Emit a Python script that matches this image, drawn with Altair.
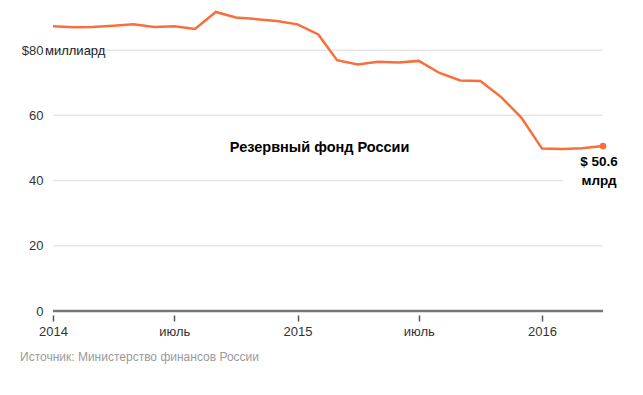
import altair as alt
import pandas as pd

dates = pd.date_range("2014-01-01", "2016-04-01", freq="MS").strftime("%Y-%m-%d").tolist()
values = [87.3, 87.0, 87.1, 87.5, 87.9, 87.1, 87.3, 86.5, 91.7, 90.0, 89.5, 88.9,
          87.9, 84.8, 76.9, 75.6, 76.4, 76.2, 76.7, 73.0, 70.7, 70.5, 65.6, 59.3,
          49.8, 49.7, 49.9, 50.6]

grid_values = [20, 40, 60, 80]
grid_starts = ["2014-01-01"] * 4
grid_ends = ["2016-04-01", "2016-02-01", "2016-04-01", "2016-04-01"]

title_text = "Резервный фонд России"
source_text = "Источник: Министерство финансов России"
unit_text = "миллиард"
end_label = ["$ 50.6", "млрд"]

FONT = "Liberation Sans"
ORANGE = "#fa6e3a"

df = pd.DataFrame({"date": dates, "value": values})
grid_df = pd.DataFrame({"y": grid_values, "x": grid_starts, "x2": grid_ends})
last_df = df.tail(1)

xscale = alt.Scale(domain=["2014-01-01", "2016-04-01"])
yscale = alt.Scale(domain=[0, 92], nice=False)

xaxis = alt.Axis(
    values=["2014-01-01", "2014-07-01", "2015-01-01", "2015-07-01", "2016-01-01"],
    labelExpr="month(datum.value) == 0 ? timeFormat(datum.value, '%Y') : 'июль'",
    domain=False, grid=False, ticks=True, tickSize=6, tickColor="#555", tickWidth=1.5,
    offset=4, labelPadding=4, labelFlush=False, labelFont=FONT, labelFontSize=13,
    labelColor="#333", title=None,
)
yaxis = alt.Axis(
    values=[0, 20, 40, 60, 80],
    labelExpr="datum.value == 80 ? '$80' : datum.label",
    domain=False, grid=False, ticks=False, labelPadding=10,
    labelFont=FONT, labelFontSize=13, labelColor="#333", title=None,
)

grid = alt.Chart(grid_df).mark_rule(color="#e6e6e6", strokeWidth=1.5).encode(
    x=alt.X("x:T", scale=xscale, axis=xaxis),
    x2="x2:T",
    y=alt.Y("y:Q", scale=yscale, axis=yaxis),
)

baseline = alt.Chart(pd.DataFrame({"x": [dates[0]], "x2": [dates[-1]]})).mark_rule(
    color="#777", strokeWidth=2.5
).encode(x=alt.X("x:T", scale=xscale), x2="x2:T", y=alt.datum(0))

line = alt.Chart(df).mark_line(color=ORANGE, strokeWidth=2.5).encode(
    x=alt.X("date:T", scale=xscale),
    y=alt.Y("value:Q", scale=yscale),
)
point = alt.Chart(last_df).mark_circle(color=ORANGE, size=45, opacity=1).encode(
    x=alt.X("date:T", scale=xscale),
    y=alt.Y("value:Q", scale=yscale),
)
end_text = alt.Chart(last_df).mark_text(
    font=FONT, fontSize=13.5, fontWeight="bold", color="#000", align="center",
    baseline="top", dy=9, dx=-4, lineHeight=19,
).encode(
    x=alt.X("date:T", scale=xscale),
    y=alt.Y("value:Q", scale=yscale),
    text=alt.value(end_label),
)

unit = alt.Chart(pd.DataFrame({"x": [dates[0]], "y": [80], "t": [unit_text]})).mark_text(
    font=FONT, fontSize=13, color="#222", align="left", baseline="middle", dx=-8, dy=1,
).encode(x=alt.X("x:T", scale=xscale), y=alt.Y("y:Q", scale=yscale), text="t:N")

title = alt.Chart(pd.DataFrame({"x": ["2015-02-03"], "y": [50], "t": [title_text]})).mark_text(
    font=FONT, fontSize=14.5, fontWeight="bold", color="#000", align="center", baseline="middle",
).encode(x=alt.X("x:T", scale=xscale), y=alt.Y("y:Q", scale=yscale), text="t:N")

chart = alt.layer(grid, baseline, line, point, end_text, unit, title).properties(
    width=550,
    height=300,
    autosize=alt.AutoSizeParams(type="none"),
    padding={"left": 45, "top": 3, "right": 32, "bottom": 70},
    title=alt.TitleParams(
        source_text, orient="bottom", anchor="start", frame="group", dx=-33, offset=14,
        font=FONT, fontSize=12, fontWeight="normal", color="#9a9a9a",
    ),
).configure_view(stroke=None)

chart.save("out.html", embed_options={"renderer": "svg", "actions": False})
